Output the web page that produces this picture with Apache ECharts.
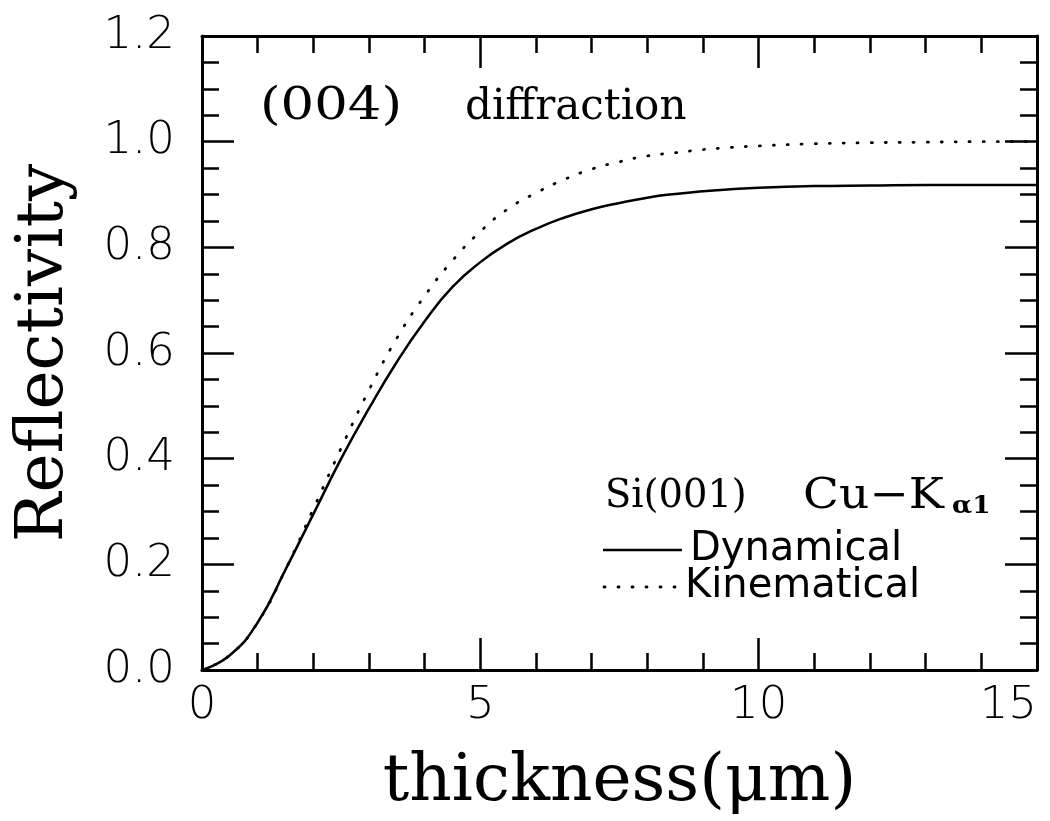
<!DOCTYPE html>
<html>
<head>
<meta charset="utf-8">
<script src="https://cdn.jsdelivr.net/npm/echarts@6/dist/echarts.min.js"></script>
<style>
html,body{margin:0;padding:0;background:#fff;}
#chart{width:1050px;height:821px;}
</style>
</head>
<body>
<div id="chart"></div>
<script>
// ---- data ----
const thickness   = [0, 0.5, 1, 1.5, 2, 2.5, 3, 3.5, 4, 4.5, 5, 5.5, 6, 6.5, 7, 7.5, 8, 8.5, 9, 9.5, 10, 11, 12, 13, 14, 15];
const dynamical   = [0, 0.028, 0.09, 0.19, 0.295, 0.40, 0.495, 0.583, 0.66, 0.725, 0.772, 0.808, 0.835, 0.856, 0.872, 0.884, 0.894, 0.901, 0.906, 0.910, 0.913, 0.916, 0.917, 0.918, 0.918, 0.918];
const kinematical = [0, 0.028, 0.09, 0.19, 0.305, 0.42, 0.53, 0.628, 0.708, 0.775, 0.83, 0.873, 0.903, 0.928, 0.948, 0.962, 0.973, 0.979, 0.985, 0.989, 0.992, 0.996, 0.998, 0.999, 1.0, 1.0];
const xTickLabels = ['0', '5', '10', '15'];
const yTickLabels = ['0.0', '0.2', '0.4', '0.6', '0.8', '1.0', '1.2'];
const seriesNames = ['Dynamical', 'Kinematical'];
const xTitle = 'thickness(\u03bcm)';
const yTitle = 'Reflectivity';

const SANS = '"DejaVu Sans", "Liberation Sans", sans-serif';
const SERIF = '"DejaVu Serif", "Liberation Serif", serif';
const BLACK = '#000';

function pairs(xs, ys) { return xs.map((x, i) => [x, ys[i]]); }

const chart = echarts.init(document.getElementById('chart'), null, {renderer: 'canvas'});

const tickCommon = {
  axisLine: {show: true, onZero: false, lineStyle: {color: BLACK, width: 3}},
  axisTick: {show: true, inside: true, length: 32, lineStyle: {color: BLACK, width: 2.5}},
  minorTick: {show: true, length: 17, lineStyle: {color: BLACK, width: 2.5}},
  splitLine: {show: false},
  minorSplitLine: {show: false}
};

function label(text, x, y, font, sx) {
  return {
    type: 'text', x: x, y: y, scaleX: sx || 1, originX: 0, originY: 0,
    style: {text: text, font: font, fill: BLACK,
      textAlign: 'left', textVerticalAlign: 'middle', align: 'left', verticalAlign: 'middle'}
  };
}

const option = {
  backgroundColor: '#fff',
  animation: false,
  grid: {left: 202, right: 13, top: 36, bottom: 147, containLabel: false},
  xAxis: [
    Object.assign({}, tickCommon, {
      type: 'value', min: 0, max: 15, interval: 5, position: 'bottom',
      minorTick: Object.assign({}, tickCommon.minorTick, {splitNumber: 5}),
      axisLabel: {
        show: true, margin: 14, color: BLACK, fontFamily: SANS, fontSize: 45, fontWeight: 200,
        alignMaxLabel: 'right',
        formatter: v => xTickLabels[Math.round(v / 5)]
      },
      name: xTitle, nameLocation: 'middle', nameGap: 80,
      nameTextStyle: {color: BLACK, fontFamily: SERIF, fontSize: 66}
    }),
    Object.assign({}, tickCommon, {
      type: 'value', min: 0, max: 15, interval: 5, position: 'top',
      minorTick: Object.assign({}, tickCommon.minorTick, {splitNumber: 5}),
      axisLabel: {show: false}
    })
  ],
  yAxis: [
    Object.assign({}, tickCommon, {
      type: 'value', min: 0, max: 1.2, interval: 0.2, position: 'left',
      minorTick: Object.assign({}, tickCommon.minorTick, {splitNumber: 4}),
      axisLabel: {
        show: true, margin: 27, color: BLACK, fontFamily: SANS, fontSize: 45, fontWeight: 200,
        formatter: v => yTickLabels[Math.round(v / 0.2)]
      },
      name: yTitle, nameLocation: 'middle', nameGap: 124, nameRotate: 90,
      nameTextStyle: {color: BLACK, fontFamily: SERIF, fontSize: 66}
    }),
    Object.assign({}, tickCommon, {
      type: 'value', min: 0, max: 1.2, interval: 0.2, position: 'right',
      minorTick: Object.assign({}, tickCommon.minorTick, {splitNumber: 4}),
      axisLabel: {show: false}
    })
  ],
  series: [
    {
      name: seriesNames[0], type: 'line', xAxisIndex: 0, yAxisIndex: 0,
      data: pairs(thickness, dynamical), showSymbol: false, smooth: 0.5,
      lineStyle: {color: BLACK, width: 2.5, type: 'solid'}
    },
    {
      name: seriesNames[1], type: 'line', xAxisIndex: 0, yAxisIndex: 0,
      data: pairs(thickness, kinematical), showSymbol: false, smooth: 0.5,
      lineStyle: {color: BLACK, width: 2.8, type: [1, 13], cap: 'round'}
    }
  ],
  graphic: [
    label('(004)', 260, 108, '44px ' + SERIF, 1.2),
    label('diffraction', 465, 108, '42px ' + SERIF, 1),
    label('Si(001)', 605, 497, '40px ' + SERIF, 0.96),
    label('Cu\u2212K', 803, 497, '42px ' + SERIF, 1.12),
    label('\u03b11', 952, 506, 'bold 25px ' + SERIF, 1.05),
    {type: 'line', shape: {x1: 603, y1: 550, x2: 682, y2: 550}, style: {stroke: BLACK, lineWidth: 2.5}},
    {type: 'line', shape: {x1: 604, y1: 587, x2: 678, y2: 587}, style: {stroke: BLACK, lineWidth: 2.8, lineDash: [1, 13], lineCap: 'round'}},
    label(seriesNames[0], 690, 550, '40px ' + SANS, 1),
    label(seriesNames[1], 685, 587, '40px ' + SANS, 1)
  ]
};
chart.setOption(option);
</script>
</body>
</html>
